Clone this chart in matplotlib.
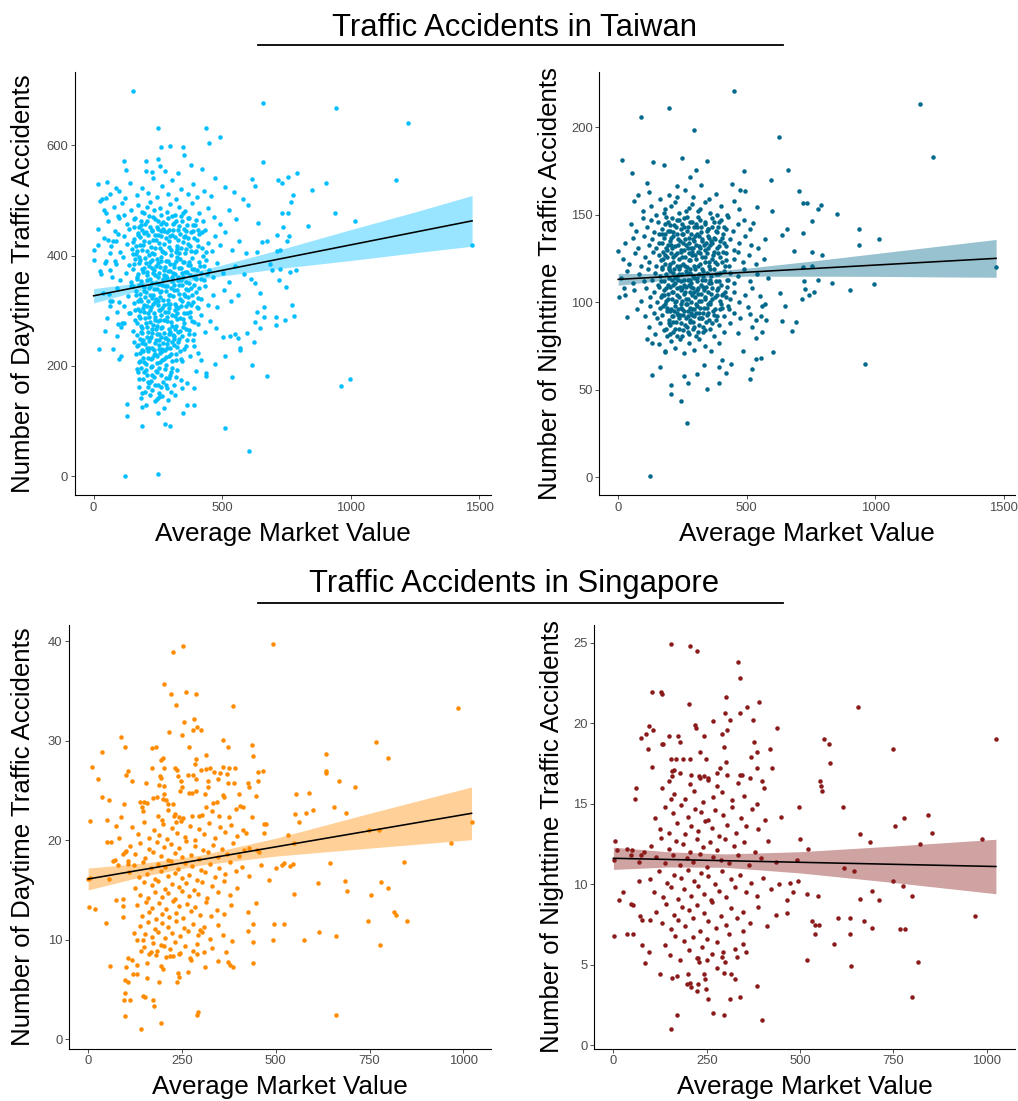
import matplotlib
matplotlib.use("Agg")
import matplotlib.pyplot as plt
from matplotlib.lines import Line2D

plt.rcParams['font.family'] = ['Liberation Sans', 'DejaVu Sans']

# ---------------- data: Taiwan, daytime ----------------
tw_day_pts = [
    (152,699),(658,676),(942,667),(1224,640),(249,632),(438,632),(492,616),(451,604),(346,597),(263,597),
    (296,598),(352,583),(252,576),(118,571),(204,571),(661,569),(379,565),(259,563),(126,556),(423,557),
    (204,554),(227,551),(278,553),(329,550),(1176,538),(790,549),(755,542),(718,538),(615,539),(905,531),
    (733,532),(629,526),(850,519),(471,541),(16,530),(52,534),(89,522),(23,499),(31,503),(49,505),
    (16,449),(40,482),(47,477),(0,411),(3,392),(17,420),(777,509),(769,498),(938,477),(734,478),
    (755,477),(1017,463),(835,454),(736,452),(760,436),(753,426),(673,427),(656,424),(713,438),(637,406),
    (726,411),(713,409),(1473,419),(686,384),(694,373),(724,376),(787,373),(765,371),(721,356),(750,343),
    (630,350),(648,332),(560,328),(774,310),(664,306),(778,291),(709,289),(744,284),(711,274),(665,289),
    (637,297),(627,280),(648,269),(624,243),(597,260),(550,257),(563,251),(532,254),(571,233),(571,228),
    (616,201),(674,181),(540,179),(964,163),(999,176),(510,217),(472,203),(437,187),(439,182),(400,190),
    (419,210),(389,159),(363,168),(344,160),(348,115),(389,128),(362,128),(510,88),(606,46),(123,0),
    (249,3),(130,130),(130,109),(187,125),(187,90),(252,114),(276,95),(298,90),(21,231),(74,231),
    (92,254),(45,263),(106,217),(98,212),(95,276),(109,278),(118,278),(65,308),(70,318),(136,296),
    (91,298),(97,316),(61,330),(29,367),(65,373),(45,387),(82,390),(65,405),(75,426),(88,426),
    (56,428),(96,440),(100,468),(117,474),
    # 500-550
    (62,512),(98,518),(121,505),(140,531),(168,509),(187,522),(212,514),(230,540),(246,507),(268,526),
    (289,512),(305,538),(322,503),(341,521),(367,511),(388,529),(402,506),(428,517),(455,508),(512,524),
    (545,515),(580,503),
    # 450-500
    (55,462),(78,488),(96,471),(112,495),(131,458),(146,482),(159,466),(172,491),(185,455),(197,477),
    (209,463),(221,497),(233,470),(247,452),(258,486),(271,461),(284,479),(296,494),(309,457),(318,473),
    (331,488),(344,462),(357,481),(369,468),(382,496),(395,455),(411,478),(426,463),(447,486),(468,470),
    (493,458),(525,483),(556,466),(601,491),(640,459),
    # 400-450
    (42,431),(67,418),(85,445),(103,407),(118,436),(129,421),(138,448),(149,412),(157,430),(165,403),
    (174,441),(181,419),(190,447),(198,426),(206,409),(213,438),(222,415),(229,444),(236,402),(243,428),
    (251,449),(257,413),(264,435),(272,421),(279,404),(286,442),(293,427),(301,411),(309,446),(316,433),
    (323,418),(331,405),(338,439),(346,424),(353,449),(361,412),(369,431),(377,417),(386,444),(394,406),
    (403,428),(412,439),(421,414),(433,447),(446,423),(459,408),(474,436),(490,419),(512,442),(538,411),
    (566,427),(592,404),
    # 350-400
    (25,372),(48,391),(72,361),(88,384),(104,356),(116,397),(127,369),(136,383),(145,352),(153,376),
    (161,393),(168,362),(176,387),(183,354),(191,371),(199,395),(206,365),(214,381),(221,358),(228,392),
    (235,374),(242,351),(249,386),(256,368),(262,398),(269,357),(276,379),(283,363),(290,391),(297,372),
    (304,354),(311,385),(318,366),(325,397),(332,378),(339,356),(347,389),(354,370),(361,352),(368,383),
    (376,364),(384,395),(392,376),(400,358),(409,388),(418,369),(428,355),(439,392),(451,374),(466,361),
    (482,387),(503,369),(527,352),(551,381),(584,366),(612,357),
    # 300-350
    (38,332),(64,318),(92,341),(118,309),(134,327),(147,345),(158,314),(166,336),(174,303),(182,322),
    (189,347),(196,311),(204,333),(211,318),(218,344),(225,306),(232,329),(239,315),(246,339),(253,302),
    (260,324),(267,347),(274,310),(281,336),(288,319),(295,304),(302,342),(309,327),(316,313),(323,338),
    (330,305),(337,321),(345,346),(353,331),(361,308),(369,324),(378,341),(387,316),(397,333),(408,304),
    (419,322),(432,344),(447,311),(463,329),(481,306),(506,338),(534,318),
    # 250-300
    (52,287),(108,271),(142,296),(153,264),(162,283),(169,255),(176,291),(183,272),(190,259),(197,297),
    (203,278),(210,262),(217,288),(223,253),(230,274),(236,296),(243,266),(249,281),(256,257),(262,293),
    (268,270),(275,284),(281,251),(288,298),(294,267),(301,279),(308,256),(315,291),(322,273),(329,262),
    (337,286),(345,254),(353,277),(362,295),(371,265),(381,282),(392,258),(405,276),(418,293),(434,262),
    (452,281),(476,268),(503,253),
    # 200-250
    (156,243),(163,221),(169,236),(175,207),(181,248),(187,228),(193,214),(199,239),(205,203),(211,226),
    (217,245),(223,212),(229,232),(235,219),(241,247),(247,205),(253,237),(259,224),(265,210),(271,242),
    (277,229),(283,216),(290,247),(297,233),(304,208),(312,238),(320,222),(329,244),(339,213),(350,231),
    (362,247),(376,218),(391,236),(406,224),
    # 150-200
    (171,188),(178,162),(186,196),(193,176),(201,153),(208,184),(215,168),(222,197),(229,157),(236,179),
    (243,191),(250,165),(256,150),(263,183),(270,171),(278,194),(286,159),(294,177),(303,188),(313,166),
    (326,192),(341,174),
    # 100-150
    (183,142),(202,128),(221,147),(238,136),(254,144),(272,123),(291,138),(316,147),
    # dense core
    (158,452),(171,437),(184,463),(195,441),(207,488),(218,452),(231,429),(239,466),(252,438),(263,457),
    (275,445),(288,468),(299,436),(312,459),(327,447),(339,471),(351,433),(365,456),(379,442),(398,465),
    (152,402),(163,417),(177,398),(189,411),(203,386),(216,401),(226,377),(238,413),(246,394),(259,380),
    (267,409),(281,391),(289,372),(302,401),(314,379),(326,412),(335,393),(344,368),(357,404),(372,388),
    (381,375),(397,409),(413,381),(426,399),(441,367),(154,345),(167,358),(179,331),(187,376),(198,343),
    (209,370),(219,329),(227,351),(238,364),(244,322),(255,349),(264,336),(272,365),(285,344),(292,329),
    (306,361),(313,347),(327,355),(334,331),(349,362),(358,339),(371,350),(383,329),(394,363),(412,341),
    (161,301),(172,318),(181,287),(192,305),(200,324),(212,296),(220,279),(231,312),(240,289),(251,318),
    (258,284),(266,305),(277,297),(286,281),(297,312),(305,292),(318,301),(326,285),(339,309),(352,295),
    (366,314),(377,297),(389,279),(401,306),(173,238),(184,262),(194,247),(206,270),(214,233),(226,259),
    (237,241),(245,272),(254,246),(266,231),(274,259),(285,240),(296,262),(307,244),(318,267),(333,249),
    (346,270),(358,236),(370,258),(388,246),(168,195),(180,208),(191,226),(203,192),(213,214),(226,199),
    (238,221),(248,189),(260,206),(268,227),(281,201),(293,218),(306,196),(322,211),(337,227),(190,150),
    (212,171),(226,183),(247,140),(261,161),(281,178),(300,152),
    (162,468),(176,452),(188,479),(201,458),(214,471),(226,446),(235,483),(249,462),(261,474),(270,449),
    (281,458),(294,447),(305,472),(320,463),(333,454),(347,477),(360,444),(373,469),(388,456),(405,447),
    (155,425),(168,409),(180,433),(193,419),(205,442),(217,425),(228,404),(240,437),(253,422),(261,444),
    (270,407),(283,431),(295,416),(307,438),(319,406),(330,428),(342,413),(356,436),(366,421),(380,409),
    (392,432),(407,418),(420,443),(437,406),(159,384),(171,366),(182,392),(196,377),(208,355),(219,389),
    (230,369),(241,381),(252,361),(263,390),(273,373),(286,359),(297,385),(308,369),(321,390),(329,362),
    (341,378),(352,389),(364,371),(376,383),(389,362),(403,374),(417,358),(431,381),(163,329),(175,347),
    (186,318),(197,336),(208,308),(216,342),(229,323),(236,340),(249,311),(257,334),(269,319),(279,345),
    (290,312),(299,329),(311,338),(320,309),(332,347),(343,318),(355,326),(367,337),(380,311),(392,347),
    (405,323),(170,277),(179,299),(189,268),(199,286),(208,252),(218,301),(227,267),(238,284),(247,258),
    (257,301),(264,269),(276,251),(284,289),(293,258),(304,273),(313,254),(324,296),(336,264),(348,285),
    (359,267),(374,289),(179,224),(189,242),(198,206),(208,233),(219,251),(228,214),(236,228),(245,218),
    (256,230),(264,252),(275,213),(286,232),(300,221),(311,248),(326,235),(343,209),(178,176),(195,189),
    (210,161),(223,172),(240,165),(255,196),(266,146),(283,166),(298,183),(320,179),
]
tw_day_fit_x = [0, 150, 300, 500, 750, 1000, 1250, 1473]
tw_day_fit_y = [327, 341, 355, 373, 396, 419, 442, 463]
tw_day_ci_lo = [314, 333, 349, 363, 378, 391, 405, 417]
tw_day_ci_hi = [340, 349, 361, 383, 414, 447, 479, 509]

# ---------------- data: Taiwan, nighttime ----------------
tw_night_pts = [
    (452,220.8),(197,211.2),(89,205.6),(1175,213),(295,198.6),(627,194.6),(1224,183.2),(16,181),(249,182.6),(345,180.8),
    (137,180.2),(179,178.6),(53,173.8),(301,175.8),(491,174.8),(661,175.6),(280,171.8),(596,169.6),(324,166.8),(114,168.2),
    (227,166.6),(443,167.6),(705,163.6),(473,164),(492,163.6),(720,156.8),(734,156.8),(790,155.8),(541,154.6),(776,153.4),
    (600,152.4),(850,150.2),(754,146.7),(523,145.1),(657,142.1),(939,141.9),(636,138.3),(719,139.5),(1017,135.9),(937,132.5),
    (685,129.5),(753,128.5),(792,127.1),(1471,119.9),(720,120.1),(754,120.5),(833,110.9),(903,106.9),(997,110.3),(725,112.1),
    (729,107.7),(744,104.1),(761,105.7),(714,101.7),(776,112.7),(628,105.1),(648,98.1),(693,88.5),(636,89.3),(676,83.5),
    (573,99.1),(561,82.9),(602,71.5),(512,56.3),(962,64.7),(0,129.5),(4,103.1),(36,91.5),(22,108.1),(124,0.8),
    (269,31),(246,43.4),(206,47.4),(206,53),(347,50.4),(391,53.7),(130,58.5),(162,62.9),(273,54.1),(256,57.7),
    (438,64.9),(403,66.9),(394,62.9),(335,64.1),(111,78.9),(130,76.9),(181,71.5),(306,59.1),(421,59.5),(484,72.3),
    (536,67.9),(557,68.1),(521,61.7),(512,93.5),(554,92.1),(537,90.1),(574,89.7),(521,85.9),(537,79.7),(466,82.3),
    (504,97.1),(561,98.1),(552,103.5),
    # 150-165
    (63,158),(77,161),(95,152),(118,163),(129,155),(147,150),(163,159),(184,153),(199,161),(221,157),
    (238,151),(259,164),(276,154),(293,160),(312,152),(338,157),(357,151),(381,162),(402,155),(425,150),
    (449,158),(472,153),
    # 140-150
    (48,145),(70,141),(98,148),(112,143),(126,147),(141,140),(156,146),(172,142),(188,149),(203,144),
    (214,140),(229,147),(243,142),(256,148),(268,141),(281,146),(295,143),(309,149),(322,140),(336,145),
    (351,142),(365,148),(379,141),(394,146),(410,143),(428,149),(447,141),(466,145),(489,147),(512,142),
    # 130-140
    (28,134),(57,137),(79,131),(101,138),(118,133),(133,136),(146,131),(158,139),(169,134),(180,137),
    (191,130),(201,135),(212,138),(223,132),(233,136),(244,130),(254,139),(264,133),(274,137),(285,131),
    (295,135),(305,139),(315,132),(326,136),(337,130),(348,138),(359,133),(371,137),(383,131),(395,135),
    (408,139),(421,132),(436,136),(452,130),(471,134),(493,138),(518,133),(545,131),(572,136),
    # 120-130
    (18,125),(42,122),(66,128),(87,121),(105,126),(121,123),(135,129),(147,121),(157,127),(166,124),
    (175,129),(183,122),(191,126),(199,120),(207,128),(215,123),(222,127),(230,121),(237,125),(245,129),
    (252,122),(259,126),(267,120),(274,128),(281,124),(289,127),(296,121),(304,125),(312,129),(320,122),
    (328,126),(337,123),(346,128),(355,121),(364,125),(374,129),(384,122),(395,126),(406,123),(419,128),
    (433,121),(449,125),(467,129),(486,123),(509,127),(537,122),(566,125),
    # 110-120
    (12,114),(34,118),(58,111),(80,116),(99,112),(116,119),(131,113),(143,117),(153,110),(162,115),
    (170,119),(178,112),(186,116),(193,110),(201,118),(208,113),(215,117),(222,111),(229,115),(236,119),
    (243,112),(250,116),(257,110),(264,118),(271,113),(278,117),(285,111),(292,115),(299,119),(306,112),
    (313,116),(321,110),(329,118),(337,113),(345,117),(353,111),(362,115),(371,119),(380,112),(390,116),
    (400,110),(411,118),(423,113),(436,117),(451,111),(468,115),(488,119),(512,112),(541,116),(583,114),
    # 100-110
    (26,104),(61,107),(89,101),(108,108),(124,103),(138,106),(150,100),(160,109),(169,104),(177,107),
    (185,101),(193,105),(200,109),(208,102),(215,106),(222,100),(229,108),(236,103),(243,107),(250,101),
    (257,105),(264,109),(271,102),(278,106),(285,100),(292,108),(300,103),(307,107),(315,101),(323,105),
    (331,109),(339,102),(348,106),(357,100),(366,108),(376,103),(386,107),(397,101),(409,105),(422,109),
    (436,102),(452,106),(470,100),(493,104),(521,108),
    # 90-100
    (72,96),(104,92),(123,98),(139,94),(152,91),(163,97),(172,93),(181,99),(190,95),(198,90),
    (206,96),(214,92),(222,98),(230,94),(238,91),(246,97),(254,93),(262,99),(270,95),(278,90),
    (287,96),(296,92),(305,98),(314,94),(324,91),(334,97),(345,93),(356,99),(368,95),(381,90),
    (395,96),(411,92),(428,98),(449,94),(476,91),
    # 80-90
    (118,86),(145,82),(163,88),(178,84),(191,81),(203,87),(215,83),(226,89),(237,85),(248,81),
    (259,87),(270,83),(281,89),(292,85),(304,81),(316,87),(329,83),(343,89),(358,85),(374,81),
    (392,87),(413,83),(437,88),
    # 70-80
    (158,76),(183,72),(204,78),(222,74),(240,79),(257,71),(275,77),(294,73),(314,79),(336,75),
    (362,72),(391,77),
    # dense core
    (175,125),(186,131),(196,119),(204,137),(213,126),(221,114),(232,133),(241,121),(249,108),(258,130),
    (266,117),(276,124),(283,109),(291,136),(299,127),(307,114),(317,131),(326,119),(334,107),(343,134),
    (352,123),(361,111),(370,127),(381,116),(392,132),(403,104),(414,121),(426,113),(168,112),(180,104),
    (189,97),(198,114),(210,106),(219,95),(227,104),(234,113),(246,99),(255,113),(263,102),(270,92),
    (280,113),(288,104),(297,96),(309,105),(318,97),(325,113),(336,103),(345,97),(356,113),(367,102),
    (378,96),(389,108),(401,99),(415,106),(430,96),(160,134),(172,139),(184,145),(195,141),(206,133),
    (217,144),(228,139),(239,135),(250,145),(261,136),(272,143),(282,139),(293,131),(303,145),(313,138),
    (324,143),(333,133),(344,141),(354,137),(366,143),(378,136),(390,143),(404,137),(418,142),(196,88),
    (209,92),(220,85),(233,96),(244,88),(256,95),(268,86),(279,97),(290,89),(302,94),(316,91),(331,86),
    (350,94),(366,88),(385,92),(178,151),(205,155),(230,160),(262,152),(289,156),(318,153),(352,159),(384,150),
    (171,120),(182,127),(193,133),(203,122),(211,131),(219,119),(228,128),(236,116),(247,126),(253,134),
    (261,121),(271,131),(279,119),(287,129),(294,114),(302,133),(311,121),(320,128),(331,115),(339,126),
    (349,131),(358,119),(367,134),(376,123),(387,128),(398,117),(409,129),(421,124),(167,103),(176,98),
    (185,108),(194,102),(203,95),(212,110),(224,101),(231,93),(240,109),(249,96),(259,106),(267,99),
    (276,110),(285,94),(294,106),(304,99),(312,108),(322,101),(330,94),(340,109),(351,99),(361,105),
    (372,93),(383,104),(394,112),(406,97),(419,103),(181,139),(192,146),(202,141),(211,148),(226,143),
    (235,147),(247,139),(258,143),(266,149),(277,134),(287,146),(298,138),(307,143),(319,147),(328,135),
    (339,146),(349,142),(361,135),(373,146),(386,140),(399,147),(411,134),(188,85),(200,82),(214,89),
    (228,81),(239,93),(252,84),(263,91),(275,82),(286,93),(297,86),(311,83),(325,91),(339,84),(355,90),
]
tw_night_fit_x = [0, 150, 300, 500, 750, 1000, 1250, 1471]
tw_night_fit_y = [113.1, 114.3, 115.5, 117.2, 119.2, 121.3, 123.3, 125.1]
tw_night_ci_lo = [109.7, 112.1, 113.9, 114.9, 114.9, 114.8, 114.5, 114.3]
tw_night_ci_hi = [116.5, 116.5, 117.1, 119.5, 123.5, 127.8, 132.1, 135.9]

# ---------------- data: Singapore, daytime ----------------
sg_day_pts = [
    (253,39.5),(226,38.9),(494,39.7),(203,35.7),(221,34.7),(261,34.9),(288,34.7),(233,33.6),(387,33.5),(986,33.3),
    (281,32.2),(256,31.9),(290,31.4),(301,31.1),(279,31.1),(216,30.9),(251,30.6),(87,30.4),(359,30.1),(766,29.9),
    (97,29.4),(270,29.4),(372,29.4),(170,29.3),(182,29.4),(438,29.6),(36,28.9),(635,28.7),(200,28.3),(193,28.1),
    (439,28.5),(288,28.2),(286,27.7),(798,28.3),(313,28.6),
    (10,27.4),(169,27.3),(203,27.3),(231,27.3),(237,27.1),(302,27.1),(315,27.2),(326,27.3),(359,27.4),(375,27.3),
    (392,27.3),(335,26.9),(352,26.8),(370,26.7),(633,27.0),(635,26.8),(465,27.0),(454,26.9),(105,27.0),(102,26.6),
    (265,26.6),(240,26.5),(280,26.6),(27,26.1),(117,25.9),(191,26.4),(195,26.2),(247,25.9),(288,26.1),(319,25.9),
    (345,26.1),(670,25.9),(453,25.9),(155,25.7),(188,25.5),(202,25.4),(250,25.3),(427,25.7),(428,25.3),(390,25.7),
    (373,25.7),(319,25.3),(711,25.3),
    (37,24.3),(56,24.0),(95,23.6),(137,23.8),(150,23.8),(157,23.7),(174,24.2),(184,24.3),(202,24.6),(200,24.1),
    (207,24.0),(214,23.6),(225,23.6),(246,24.9),(268,24.7),(276,24.7),(288,24.9),(312,24.6),(359,24.5),(361,24.3),
    (313,23.3),(333,23.7),(343,23.8),(403,24.6),(447,24.4),(553,24.6),(590,24.7),(656,23.3),(599,23.0),(581,22.7),
    (688,22.7),(406,23.4),(395,23.1),(413,23.3),(144,23.3),(145,22.9),(186,22.4),(198,22.0),(228,22.4),(214,23.0),
    (231,22.6),(243,22.3),(253,22.2),(233,21.8),(276,22.4),(296,22.4),(303,22.5),(330,22.9),(349,22.4),(375,22.3),
    (436,22.3),(87,22.3),(50,22.0),(5,21.9),(551,22.6),(563,21.8),
    (470,21.6),(473,21.6),(1022,21.8),(422,20.7),(470,20.7),(533,20.5),(749,21.0),(776,21.0),(966,19.7),(549,19.7),
    (455,18.8),(449,19.0),(429,19.2),(462,17.5),(521,17.7),(517,17.5),(546,17.6),(539,17.4),(645,17.7),(842,17.8),
    (500,17.2),(482,16.0),(428,16.4),(4,16.2),(55,16.1),(0,16.1),
    (613,15.7),(685,15.9),(781,15.8),(799,15.2),(691,14.9),(753,14.5),(548,14.6),(448,13.7),(814,12.8),(820,12.5),
    (851,11.9),(747,11.9),(496,11.6),(522,11.6),(426,12.8),(439,11.6),(426,10.9),(616,10.8),(660,10.4),(575,10.0),
    (493,10.0),(778,9.5),(439,9.8),(383,9.9),(359,10.5),(440,7.7),(377,7.5),(385,7.3),(374,7.8),(368,8.8),
    (346,7.9),(312,7.3),(661,2.4),(2,13.3),(17,13.1),(48,11.7),(59,7.4),(73,14.0),(92,13.4),(93,14.1),
    (92,12.3),(100,7.3),(98,4.6),(96,3.9),(112,3.9),(98,2.3),(98,5.9),(105,5.7),(107,8.2),(120,6.6),
    (131,6.6),(117,8.0),(130,7.5),(141,1.0),(147,4.3),(152,4.2),(172,3.9),(176,3.3),(194,1.6),(157,6.1),
    (156,7.7),(190,5.7),(200,7.1),(237,5.7),(243,6.3),(240,6.7),(266,6.8),(289,2.4),(292,2.7),(275,8.0),
    (280,8.9),(289,8.6),(297,11.0),(303,10.8),(195,7.4),(181,8.5),(217,8.4),(226,8.4),(241,8.6),(203,9.4),
    (168,8.8),(140,8.9),(130,10.0),(123,10.7),(146,10.0),
    (75,21.4),(49,19.8),(62,19.8),(83,20.2),(67,17.9),(80,17.5),(72,18.0),(92,18.6),(98,18.8),(100,18.9),
    (107,17.9),(105,17.6),
    # 20-22
    (118,21.3),(133,20.6),(149,21.8),(162,20.2),(176,21.0),(188,20.5),(199,21.6),(211,20.1),(224,21.2),(236,20.7),
    (247,21.9),(259,20.3),(271,21.4),(284,20.0),(296,21.1),(309,20.6),(322,21.7),(337,20.2),(351,21.3),(366,20.8),
    (381,21.5),(398,20.4),(412,21.0),
    # 18-20
    (112,19.4),(126,18.6),(139,19.7),(152,18.2),(163,19.1),(174,18.8),(184,19.8),(193,18.4),(203,19.3),(213,18.0),
    (222,19.6),(231,18.7),(241,19.2),(251,18.3),(262,19.9),(273,18.5),(284,19.4),(295,18.1),(307,19.0),(319,18.8),
    (332,19.5),(345,18.3),(358,19.1),(371,18.6),(385,19.7),(401,18.4),(416,19.0),
    # 16-18
    (108,16.8),(121,17.5),(135,16.3),(147,17.8),(157,16.6),(167,17.2),(177,16.1),(186,17.6),(195,16.9),(204,17.3),
    (213,16.4),(222,17.9),(231,16.7),(240,17.1),(249,16.2),(258,17.7),(268,16.5),(278,17.4),(289,16.0),(300,17.0),
    (312,16.8),(324,17.6),(337,16.3),(350,17.2),(364,16.6),(379,17.8),(395,16.9),(411,17.3),
    # 14-16
    (126,15.2),(139,14.5),(150,15.8),(160,14.2),(169,15.5),(178,14.8),(187,15.9),(196,14.3),(205,15.1),(214,14.7),
    (223,15.6),(232,14.1),(241,15.3),(250,14.9),(260,15.7),(270,14.4),(281,15.0),(292,14.6),(304,15.8),(317,14.2),
    (331,15.4),(346,14.8),(362,15.9),(379,14.5),(397,15.2),
    # 12-14
    (131,13.5),(143,12.4),(153,13.8),(162,12.8),(171,13.2),(180,12.1),(189,13.7),(198,12.6),(207,13.1),(216,12.3),
    (225,13.9),(234,12.7),(243,13.4),(253,12.2),(263,13.6),(274,12.9),(286,13.3),(299,12.5),(313,13.8),(328,12.4),
    (344,13.0),(362,12.6),(381,13.5),
    # 10-12
    (138,11.4),(151,10.6),(160,11.8),(169,10.3),(178,11.1),(187,10.8),(196,11.7),(205,10.2),(214,11.3),(224,10.7),
    (234,11.9),(244,10.4),(255,11.2),(266,10.9),(279,11.6),(293,10.5),(309,11.3),(326,10.1),(345,11.5),
    # 8-10
    (148,9.3),(161,8.6),(172,9.7),(184,8.9),(195,9.5),(207,8.3),(219,9.1),(231,9.8),(244,8.7),(258,9.4),
    (272,8.2),(289,9.6),(308,8.8),(331,9.2),
]
sg_day_fit_x = [0, 150, 300, 500, 750, 1022]
sg_day_fit_y = [16.1, 17.07, 18.04, 19.33, 20.95, 22.7]
sg_day_ci_lo = [15.0, 16.4, 17.5, 18.4, 19.2, 20.05]
sg_day_ci_hi = [17.2, 17.7, 18.5, 20.2, 22.7, 25.35]

# ---------------- data: Singapore, nighttime ----------------
sg_night_pts = [
    (154,24.9),(206,24.8),(223,24.5),(334,23.8),(338,22.8),(103,21.9),(128,21.9),(131,21.8),(301,21.6),(203,21.2),
    (359,21.0),(390,21.3),(656,21.0),(338,20.6),(300,20.6),(313,20.2),(267,20.1),(373,20.2),(95,19.8),(219,19.9),
    (221,19.7),(439,19.7),(304,19.6),(106,19.6),(75,19.1),(87,19.3),(150,19.2),(173,19.2),(243,19.2),(292,19.3),
    (565,19.0),(578,18.7),(1025,19.0),(376,18.8),(130,18.7),(132,18.7),(178,18.8),(297,18.5),(92,18.4),(420,18.4),
    (750,18.4),(232,18.2),(386,18.2),(369,17.9),(155,17.8),(169,17.8),(187,17.8),(205,17.8),(248,17.8),(302,17.6),
    (104,17.3),(581,17.5),(424,17.2),(157,17.0),(162,17.1),(157,16.7),(285,17.2),(386,17.2),(278,16.9),(340,16.8),
    (345,16.8),(209,16.8),(232,16.6),(242,16.7),(253,16.6),(60,16.0),(129,16.0),(553,16.4),(555,16.1),(558,15.8),
    (397,16.4),(403,16.0),(57,15.3),(154,15.3),(497,14.8),(615,14.8),(448,14.2),(780,14.1),(843,14.3),(755,13.6),
    (855,13.2),(661,13.1),(688,12.6),(822,12.5),(989,12.8),(501,12.8),(522,12.2),(4,12.7),(9,12.1),(36,12.2),
    (50,12.1),(47,11.8),(73,11.8),(82,12.0),(69,11.4),(1,11.5),(493,11.5),(617,11.0),(646,10.8),(750,10.2),
    (777,9.9),(495,10.2),(474,10.1),(68,10.2),(26,9.5),(15,9.0),(520,9.4),(548,9.3),(693,9.6),(712,9.0),
    (660,9.1),(801,9.3),(481,9.5),(465,9.0),(47,8.8),(52,8.7),(465,8.2),(602,7.9),(634,7.9),(533,7.7),
    (539,7.5),(551,7.5),(672,7.7),(693,7.3),(768,7.2),(782,7.2),(969,8.0),(540,6.9),(634,6.9),(591,6.3),
    (70,8.0),(77,7.8),(98,7.8),(1,6.8),(36,6.9),(53,6.9),(77,6.2),(84,5.1),(95,5.8),(519,5.3),
    (636,4.9),(816,5.2),(800,3.0),(398,1.6),(155,1.0),(170,1.9),(266,2.0),(297,1.9),(384,3.7),(339,3.0),
    (312,2.9),(253,2.9),(124,4.4),(157,4.2),(170,4.3),(200,4.4),(205,3.9),(209,3.6),(196,3.8),(223,3.4),
    (227,3.8),(242,4.4),(245,4.1),(248,3.5),(296,4.5),(314,4.4),(326,4.1),(277,4.8),(332,5.5),(346,6.3),
    (356,5.8),(348,7.1),(299,5.2),(290,5.5),(224,5.4),(230,5.2),(251,5.3),
    # 15-17
    (148,16.4),(163,15.6),(178,16.9),(191,15.3),(204,16.2),(217,15.8),(229,16.7),(241,15.1),(254,16.5),(266,15.4),
    (278,16.1),(291,15.7),(305,16.8),(319,15.2),(334,16.3),(350,15.5),(366,16.6),(384,15.0),
    # 13-15
    (112,14.1),(125,13.4),(138,14.8),(150,13.2),(161,14.4),(171,13.8),(181,14.9),(191,13.1),(200,14.2),(209,13.6),
    (218,14.7),(227,13.3),(236,14.5),(245,13.9),(254,14.0),(263,13.5),(273,14.6),(283,13.0),(294,14.3),(305,13.7),
    (317,14.8),(329,13.2),(342,14.1),(356,13.6),(371,14.7),(388,13.4),(405,14.0),
    # 11-13
    (102,12.4),(115,11.7),(127,12.9),(139,11.3),(150,12.2),(160,11.8),(169,12.7),(178,11.2),(187,12.5),(196,11.6),
    (205,12.0),(214,11.4),(223,12.8),(232,11.9),(241,12.3),(250,11.1),(259,12.6),(268,11.7),(278,12.1),(288,11.5),
    (299,12.8),(310,11.3),(322,12.4),(335,11.8),(349,12.6),(363,11.2),(379,12.0),(396,11.6),(414,12.7),(435,11.4),
    # 9-11
    (98,10.3),(110,9.5),(122,10.8),(133,9.2),(144,10.1),(154,9.8),(163,10.6),(172,9.1),(181,10.4),(190,9.7),
    (199,10.9),(208,9.3),(217,10.2),(226,9.9),(235,10.7),(244,9.4),(253,10.5),(262,9.0),(272,10.0),(282,9.6),
    (292,10.8),(303,9.2),(315,10.3),(327,9.8),(340,10.6),(354,9.5),(369,10.1),(385,9.3),(402,10.4),(421,9.7),
    (443,10.0),
    # 7-9
    (115,8.3),(129,7.6),(142,8.8),(153,7.2),(163,8.1),(173,7.8),(183,8.6),(193,7.4),(203,8.4),(213,7.9),
    (223,8.7),(233,7.1),(243,8.2),(254,7.7),(265,8.9),(276,7.3),(288,8.0),(301,7.5),(315,8.5),(330,7.9),
    (347,8.3),(366,7.6),(388,8.6),(412,7.4),(437,8.1),
    # 5-7
    (137,6.2),(152,5.6),(165,6.8),(178,5.3),(190,6.5),(202,5.9),(214,6.7),(226,5.4),(238,6.1),(251,6.6),
    (264,5.7),(278,6.4),(293,5.8),(309,6.9),(327,6.0),
]
sg_night_fit_x = [0, 150, 300, 500, 750, 1025]
sg_night_fit_y = [11.61, 11.54, 11.46, 11.36, 11.24, 11.10]
sg_night_ci_lo = [10.92, 11.07, 11.05, 10.70, 10.11, 9.41]
sg_night_ci_hi = [12.30, 12.01, 11.88, 12.02, 12.37, 12.79]

x_label = "Average Market Value"
y_label_day = "Number of Daytime Traffic Accidents"
y_label_night = "Number of Nighttime Traffic Accidents"
title_tw = "Traffic Accidents in Taiwan"
title_sg = "Traffic Accidents in Singapore"
tw_xticks = [0, 500, 1000, 1500]
sg_xticks = [0, 250, 500, 750, 1000]
tw_day_yticks = [0, 200, 400, 600]
tw_night_yticks = [0, 50, 100, 150, 200]
sg_day_yticks = [0, 10, 20, 30, 40]
sg_night_yticks = [0, 5, 10, 15, 20, 25]

W, H = 1018, 1101
fig = plt.figure(figsize=(W / 100, H / 100), dpi=100)


def make_axes(l, t, r, b):
    return fig.add_axes([l / W, 1 - b / H, (r - l) / W, (b - t) / H])


def panel(ax, box, pts, fx, fy, lo, hi, color, ylabel, xticks, yticks, ylab_x, xlab_base):
    l, t, r, b = box
    xs = [p[0] for p in pts]
    ys = [p[1] for p in pts]
    ax.scatter(xs, ys, s=10.5, color=color, linewidths=0, zorder=2)
    ax.fill_between(fx, lo, hi, color=color, alpha=0.4, linewidth=0, zorder=3)
    ax.plot([fx[0], fx[-1]], [fy[0], fy[-1]], color='black', lw=1.15, zorder=4)
    ax.margins(x=0.05, y=0.05)
    ax.set_xticks(xticks)
    ax.set_yticks(yticks)
    for side in ('top', 'right'):
        ax.spines[side].set_visible(False)
    for side in ('left', 'bottom'):
        ax.spines[side].set_color('black')
        ax.spines[side].set_linewidth(0.8)
    ax.tick_params(axis='both', length=2.8, width=0.6, color='#333333',
                   labelcolor='#4D4D4D', labelsize=9.4, pad=2)
    ax.set_xlabel(x_label, fontsize=18.8, color='black')
    ax.set_ylabel(ylabel, fontsize=18.6, color='black')
    ax.xaxis.set_label_coords(0.5, (b - xlab_base) / (b - t))
    ax.xaxis.label.set_verticalalignment('baseline')
    ax.yaxis.set_label_coords((ylab_x - l) / (r - l), 0.5)
    ax.yaxis.label.set_verticalalignment('center')


box1 = (74.7, 71.5, 491, 495.3)
box2 = (599.3, 71.5, 1015, 495.3)
box3 = (69, 624.9, 490.7, 1048.5)
box4 = (594.3, 624.9, 1015, 1048.5)

ax1 = make_axes(*box1)
panel(ax1, box1, tw_day_pts, tw_day_fit_x, tw_day_fit_y, tw_day_ci_lo, tw_day_ci_hi,
      '#00BFFF', y_label_day, tw_xticks, tw_day_yticks, 23, 541)
ax2 = make_axes(*box2)
panel(ax2, box2, tw_night_pts, tw_night_fit_x, tw_night_fit_y, tw_night_ci_lo, tw_night_ci_hi,
      '#00688B', y_label_night, tw_xticks, tw_night_yticks, 550, 541)
ax3 = make_axes(*box3)
panel(ax3, box3, sg_day_pts, sg_day_fit_x, sg_day_fit_y, sg_day_ci_lo, sg_day_ci_hi,
      '#FF8C00', y_label_day, sg_xticks, sg_day_yticks, 23, 1094)
ax4 = make_axes(*box4)
panel(ax4, box4, sg_night_pts, sg_night_fit_x, sg_night_fit_y, sg_night_ci_lo, sg_night_ci_hi,
      '#8B1A1A', y_label_night, sg_xticks, sg_night_yticks, 551.5, 1094)

# titles with underline
fig.text(514 / W, 1 - 35.5 / H, title_tw, ha='center', va='baseline', fontsize=22.3, color='black')
fig.add_artist(Line2D([258 / W, 783 / W], [1 - 44.5 / H, 1 - 44.5 / H], color='black', lw=1.3))
fig.text(514 / W, 1 - 592 / H, title_sg, ha='center', va='baseline', fontsize=22.3, color='black')
fig.add_artist(Line2D([258 / W, 783 / W], [1 - 602.7 / H, 1 - 602.7 / H], color='black', lw=1.3))

fig.savefig("out.png", dpi=100)
